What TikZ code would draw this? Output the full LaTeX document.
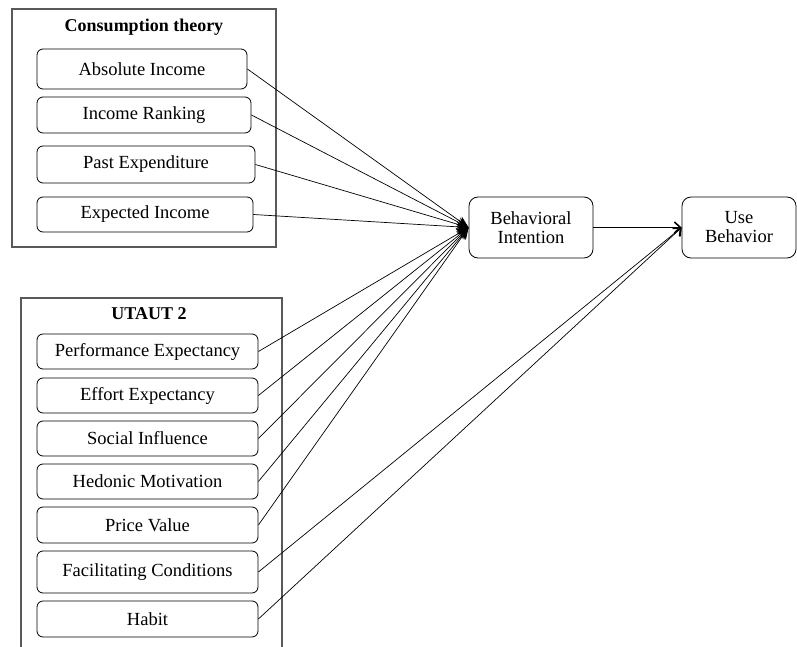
\documentclass[tikz,border=0pt]{standalone}
\usepackage{fontspec}
\setmainfont{Liberation Serif}
\usetikzlibrary{arrows.meta}
\begin{document}
\begin{tikzpicture}[x=1pt,y=-1pt,
  frame/.style={draw=black!65,line width=1.4pt},
  item/.style={draw=black,line width=0.8pt,rounded corners=6pt,font=\fontsize{18.5}{20}\selectfont,inner sep=0pt},
  ttl/.style={font=\bfseries\fontsize{18}{20}\selectfont,inner sep=0pt},
  big/.style={draw=black,line width=0.8pt,rounded corners=9pt,font=\fontsize{18.5}{19}\selectfont,align=center,inner sep=0pt,minimum height=61pt},
  conn/.style={line width=0.7pt,-{Stealth[length=12pt,width=10pt]}},
  conn2/.style={line width=0.7pt,-{Straight Barb[length=6pt,width=11pt,line width=1.6pt]}}]
\useasboundingbox (0,0) rectangle (797,647);
% frames
\node[frame,minimum width=264pt,minimum height=238pt,inner sep=0pt] (f1) at (144,128) {};
\node[ttl] (t1) at (144,27) {Consumption theory};
\draw[frame] (21,647) coordinate (fb1) |- (282,298) coordinate (fb2) -- (282,647) coordinate (fb3);
\node[ttl] (t2) at (149,314) {UTAUT 2};
% top items
\node[item,minimum width=210pt,minimum height=40pt] (ai) at (142,69) {\raisebox{-1.5pt}{Absolute Income}};
\node[item,minimum width=214pt,minimum height=36pt] (ir) at (144,115) {\raisebox{-1.5pt}{Income Ranking}};
\node[item,minimum width=218pt,minimum height=37pt] (pe) at (146,164.5) {\raisebox{-1.5pt}{Past Expenditure}};
\node[item,minimum width=216pt,minimum height=35pt] (ei) at (145,214.5) {\raisebox{-1.5pt}{Expected Income}};
% bottom items
\node[item,minimum width=221pt,minimum height=35pt] (pf) at (147.5,351.5) {\raisebox{-1pt}{Performance Expectancy}};
\node[item,minimum width=221pt,minimum height=35pt] (ee) at (147.5,395.5) {\raisebox{-1pt}{Effort Expectancy}};
\node[item,minimum width=221pt,minimum height=35pt] (si) at (147.5,438.5) {\raisebox{-1pt}{Social Influence}};
\node[item,minimum width=221pt,minimum height=35pt] (hm) at (147.5,481.5) {\raisebox{-1pt}{Hedonic Motivation}};
\node[item,minimum width=221pt,minimum height=36pt] (pv) at (147.5,525) {\raisebox{-1pt}{Price Value}};
\node[item,minimum width=221pt,minimum height=42pt] (fc) at (147.5,572) {\raisebox{-1pt}{Facilitating Conditions}};
\node[item,minimum width=221pt,minimum height=36pt] (hb) at (147.5,619) {\raisebox{-1pt}{Habit}};
% targets
\node[big,minimum width=124pt] (bi) at (531,227.5) {Behavioral\\Intention};
\node[big,minimum width=114pt] (ub) at (739,227.5) {Use\\Behavior};
% connectors
\foreach \s in {ai,ir,pe,ei,pf,ee,si,hm,pv}
  \draw[conn] (\s.east) -- (bi.west);
\draw[conn2] (bi.east) -- (ub.west);
\draw[conn2] (fc.east) -- (ub.west);
\draw[conn2] (hb.east) -- (ub.west);
\end{tikzpicture}
\end{document}
